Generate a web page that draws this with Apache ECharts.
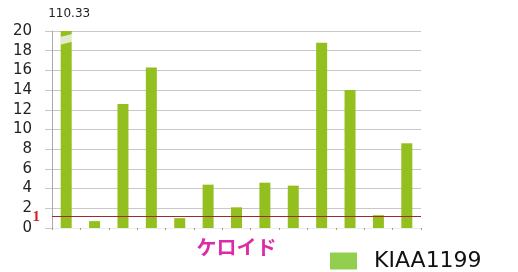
<!DOCTYPE html>
<html>
<head>
<meta charset="utf-8">
<script src="https://cdn.jsdelivr.net/npm/echarts@6/dist/echarts.min.js"></script>
<style>
  html, body { margin: 0; padding: 0; background: #fff; }
  #chart { width: 518px; height: 272px; }
</style>
</head>
<body>
<div id="chart"></div>
<script>
// data
const categories = ['1', '2', '3', '4', '5', '6', '7', '8', '9', '10', '11', '12', '13']
const values = [110.33, 0.7, 12.6, 16.3, 1.0, 4.4, 2.1, 4.6, 4.3, 18.8, 14.0, 1.3, 8.6]
const seriesName = 'KIAA1199'
const axisName = 'ケロイド'
const threshold = 1.15
const thresholdLabel = '1'
const yMax = 20

let chart = echarts.init(document.getElementById('chart'))

let option = {
    animation: false,
    grid: {
        top: 31,
        bottom: 44,
        left: 52,
        right: 97
    },
    legend: {
        data: [{ name: seriesName, itemStyle: { color: '#92cf4f' } }],
        left: 330,
        top: 250,
        padding: 0,
        icon: 'rect',
        itemWidth: 27,
        itemHeight: 17,
        textStyle: {
            fontFamily: 'DejaVu Sans',
            fontSize: 22,
            color: '#111',
            padding: [0, 0, 0, 12]
        }
    },
    xAxis: {
        type: 'category',
        data: categories,
        name: axisName,
        nameLocation: 'middle',
        nameGap: 9,
        nameTextStyle: {
            color: '#dd2aa8',
            fontSize: 20,
            fontWeight: 'bold',
            fontFamily: 'Noto Sans CJK JP'
        },
        axisLabel: { show: false },
        axisLine: { show: true, lineStyle: { color: '#ececec' } },
        axisTick: { show: true, length: 2, lineStyle: { color: '#999' } }
    },
    yAxis: {
        type: 'value',
        min: 0,
        max: yMax,
        interval: 2,
        axisLine: { show: true, lineStyle: { color: '#aaa' } },
        axisTick: { show: true, length: 7, lineStyle: { color: '#c8c8c8' } },
        axisLabel: {
            margin: 20,
            color: '#222',
            fontSize: 15,
            fontFamily: 'DejaVu Sans'
        },
        splitLine: { lineStyle: { color: '#c8c8c8' } }
    },
    series: [{
        name: seriesName,
        type: 'bar',
        data: values,
        barWidth: 11,
        itemStyle: { color: '#93c01f' },
        markLine: {
            symbol: 'none',
            silent: true,
            lineStyle: { color: '#9e2a2a', width: 1, type: 'solid' },
            label: {
                position: 'start',
                formatter: thresholdLabel,
                color: '#d02020',
                fontFamily: 'Liberation Serif',
                fontWeight: 'bold',
                fontSize: 15,
                distance: 12
            },
            data: [{ yAxis: threshold }]
        }
    }]
}
chart.setOption(option)

// break mark on the clipped bar and its real value on top
let topIdx = values.findIndex(v => v > yMax)
if (topIdx >= 0) {
    let p = chart.convertToPixel({ xAxisIndex: 0, yAxisIndex: 0 }, [topIdx, yMax])
    let q = chart.convertToPixel({ xAxisIndex: 0, yAxisIndex: 0 }, [topIdx, yMax - 1])
    let unit = q[1] - p[1]
    let hw = 6
    chart.setOption({
        graphic: [
            {
                type: 'polygon',
                shape: {
                    points: [
                        [p[0] - hw, p[1] + unit * 0.6],
                        [p[0] + hw, p[1] + unit * 0.3],
                        [p[0] + hw, p[1] + unit * 1.1],
                        [p[0] - hw, p[1] + unit * 1.4]
                    ]
                },
                style: { fill: 'rgba(235,240,225,0.9)' },
                z: 10
            },
            {
                type: 'text',
                x: p[0] + 3,
                y: p[1] - 11,
                style: {
                    text: String(values[topIdx]),
                    fontFamily: 'DejaVu Sans',
                    fontSize: 12,
                    fill: '#222',
                    align: 'center',
                    verticalAlign: 'bottom'
                }
            }
        ]
    })
}
</script>
</body>
</html>
